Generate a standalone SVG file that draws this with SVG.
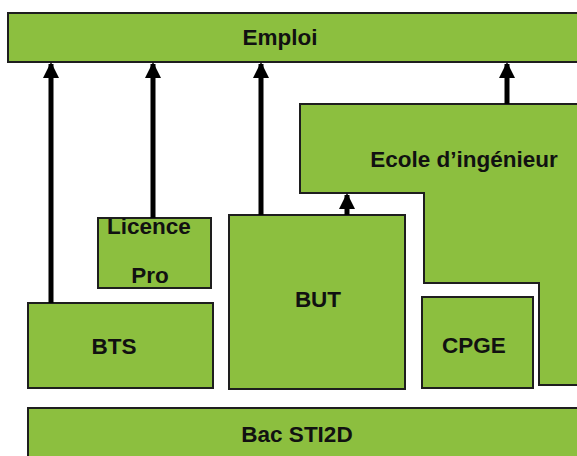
<svg xmlns="http://www.w3.org/2000/svg" width="577" height="456" viewBox="0 0 577 456">
<style>
.box{fill:#8cbf3f;stroke:#1e1e1e;stroke-width:2}
.t{font-family:"Liberation Sans",Arial,sans-serif;font-weight:bold;font-size:22.5px;fill:#111;text-anchor:middle}
.c{stroke:#000;stroke-width:5;fill:none}
</style>
<defs>
<marker id="ah" markerUnits="userSpaceOnUse" markerWidth="16" markerHeight="16" refX="14" refY="8" orient="auto">
<path d="M0,0 L16,8 L0,16 Z" fill="#000"/>
</marker>
</defs>
<rect width="577" height="456" fill="#fff"/>
<g id="emploi"><rect class="box" x="8" y="13" width="580" height="49"/><text class="t" x="280" y="45">Emploi</text></g>
<g id="ecole"><path class="box" d="M300,104 H585 V385 H539 V283 H424 V193 H300 Z"/><text class="t" x="464" y="167">Ecole d’ingénieur</text></g>
<g id="licence"><rect class="box" x="98" y="218" width="113" height="70"/><text class="t" x="149" y="234">Licence</text><text class="t" x="150" y="283">Pro</text></g>
<g id="bts"><rect class="box" x="28" y="303" width="185" height="85"/><text class="t" x="114" y="354">BTS</text></g>
<g id="but"><rect class="box" x="229" y="215" width="176" height="174"/><text class="t" x="318" y="307">BUT</text></g>
<g id="cpge"><rect class="box" x="422" y="297" width="111" height="91"/><text class="t" x="474" y="353">CPGE</text></g>
<g id="bac"><rect class="box" x="28" y="408" width="560" height="60"/><text class="t" x="297" y="442">Bac STI2D</text></g>
<g id="connectors">
<line class="c" x1="51" y1="303" x2="51" y2="64" marker-end="url(#ah)"/>
<line class="c" x1="153" y1="218" x2="153" y2="64" marker-end="url(#ah)"/>
<line class="c" x1="261" y1="215" x2="261" y2="64" marker-end="url(#ah)"/>
<line class="c" x1="507" y1="104" x2="507" y2="64" marker-end="url(#ah)"/>
<line class="c" x1="347" y1="215" x2="347" y2="195" marker-end="url(#ah)"/>
</g>
</svg>
